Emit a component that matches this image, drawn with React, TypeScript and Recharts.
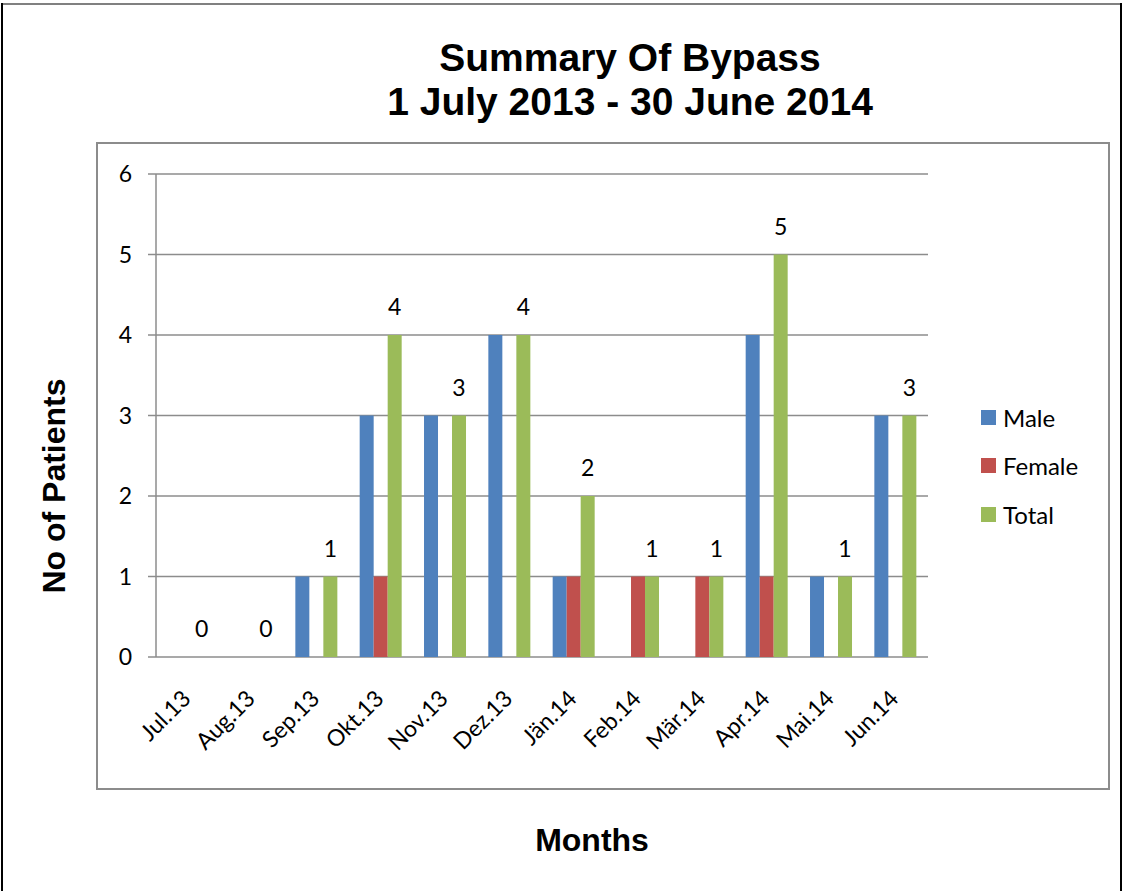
import React from "react";
import {
  BarChart,
  Bar,
  XAxis,
  YAxis,
  CartesianGrid,
  LabelList,
} from "recharts";

// Monatswerte (Bypass-Patienten)
const months = [
  "Jul.13", "Aug.13", "Sep.13", "Okt.13", "Nov.13", "Dez.13",
  "Jän.14", "Feb.14", "Mär.14", "Apr.14", "Mai.14", "Jun.14",
];
const male = [0, 0, 1, 3, 3, 4, 1, 0, 0, 4, 1, 3];
const female = [0, 0, 0, 1, 0, 0, 1, 1, 1, 1, 0, 0];
const total = [0, 0, 1, 4, 3, 4, 2, 1, 1, 5, 1, 3];
const yTicks = [0, 1, 2, 3, 4, 5, 6];

const seriesInfo = [
  { key: "Male", color: "#4F81BD" },
  { key: "Female", color: "#C0504D" },
  { key: "Total", color: "#9BBB59" },
];

const data = months.map((m, i) => ({
  month: m,
  idx: i + 0.5,
  Male: male[i],
  Female: female[i],
  Total: total[i],
}));

const FONT = "Lato, 'Noto Sans', sans-serif";
const TITLE_FONT = "'Liberation Sans', Arial, sans-serif";
const GRID = "#8c8c8c";

// schräge Monatsbeschriftung
const MonthTick = (props: any) => {
  const { x, y, payload } = props;
  return (
    <g transform={`translate(${x + 4},${y + 35}) rotate(-45)`}>
      <text x={0} y={0} textAnchor="end" fontSize={23} fontFamily={FONT} fill="#000">
        {payload.value}
      </text>
    </g>
  );
};

// Wertelabel über dem Total-Balken (auch bei 0)
const TotalLabel = (props: any) => {
  const { x, y, width, value } = props;
  return (
    <text
      x={x + width / 2}
      y={y - 20}
      textAnchor="middle"
      fontSize={23}
      fontFamily={FONT}
      fill="#000"
    >
      {value}
    </text>
  );
};

export default function App() {
  const edgeTicks = months.map((_, i) => i).concat([months.length]);

  return (
    <div
      style={{
        position: "absolute",
        left: 0,
        top: 0,
        width: 1125,
        height: 891,
        background: "#fff",
        overflow: "hidden",
      }}
    >
      {/* aeusserer Rahmen */}
      <div style={{ position: "absolute", left: 1, top: 3, width: 1121, height: 2, background: "#808080" }} />
      <div style={{ position: "absolute", left: 1, top: 3, width: 2, height: 888, background: "#000" }} />
      <div style={{ position: "absolute", left: 1120, top: 3, width: 2, height: 888, background: "#000" }} />

      {/* Plotbereich-Rahmen */}
      <div
        style={{
          position: "absolute",
          left: 96,
          top: 142,
          width: 1010,
          height: 644,
          border: "2px solid #8c8c8c",
        }}
      />

      {/* Titel */}
      <div
        style={{
          position: "absolute",
          left: 0,
          width: 1260,
          top: 36,
          textAlign: "center",
          fontFamily: TITLE_FONT,
          fontWeight: "bold",
          fontSize: 39,
          lineHeight: "44px",
          color: "#000",
        }}
      >
        <div>Summary Of Bypass</div>
        <div>1 July 2013 - 30 June 2014</div>
      </div>

      {/* Achsentitel */}
      <div
        style={{
          position: "absolute",
          left: 54,
          top: 486,
          transform: "translate(-50%, -50%) rotate(-90deg)",
          whiteSpace: "nowrap",
          fontFamily: TITLE_FONT,
          fontWeight: "bold",
          fontSize: 32,
        }}
      >
        No of Patients
      </div>
      <div
        style={{
          position: "absolute",
          left: 592,
          top: 840,
          transform: "translate(-50%, -50%)",
          whiteSpace: "nowrap",
          fontFamily: TITLE_FONT,
          fontWeight: "bold",
          fontSize: 32,
        }}
      >
        Months
      </div>

      {/* Legende */}
      <div style={{ position: "absolute", left: 981, top: 393, fontFamily: FONT, fontSize: 24 }}>
        {seriesInfo.map((s) => (
          <div key={s.key} style={{ display: "flex", alignItems: "center", height: 48.5 }}>
            <span style={{ width: 15, height: 15, background: s.color, marginRight: 7, display: "inline-block" }} />
            <span>{s.key}</span>
          </div>
        ))}
      </div>

      <div style={{ position: "absolute", left: 0, top: 0 }}>
        <BarChart
          width={1125}
          height={891}
          data={data}
          margin={{ top: 174, right: 197, bottom: 154, left: 96 }}
          barCategoryGap="16.6%"
          barGap={0}
        >
          <CartesianGrid vertical={false} stroke={GRID} strokeWidth={1.5} />
          <XAxis
            xAxisId="edges"
            dataKey="idx"
            type="number"
            domain={[0, months.length]}
            ticks={edgeTicks}
            tick={false}
            height={0}
            tickSize={8}
            axisLine={{ stroke: GRID, strokeWidth: 1.5 }}
            tickLine={{ stroke: GRID, strokeWidth: 1.5 }}
            allowDataOverflow
          />
          <XAxis
            dataKey="month"
            interval={0}
            height={80}
            axisLine={false}
            tickLine={false}
            tick={<MonthTick />}
          />
          <YAxis
            width={60}
            domain={[0, 6]}
            ticks={yTicks}
            interval={0}
            tickSize={8}
            tickMargin={16}
            axisLine={{ stroke: GRID, strokeWidth: 1.5 }}
            tickLine={{ stroke: GRID, strokeWidth: 1.5 }}
            tick={{ fontSize: 23, fontFamily: FONT, fill: "#000" }}
          />
          <Bar dataKey="Male" fill="#4F81BD" isAnimationActive={false} />
          <Bar dataKey="Female" fill="#C0504D" isAnimationActive={false} />
          <Bar dataKey="Total" fill="#9BBB59" minPointSize={0.01} isAnimationActive={false}>
            <LabelList dataKey="Total" content={<TotalLabel />} />
          </Bar>
        </BarChart>
      </div>
    </div>
  );
}
